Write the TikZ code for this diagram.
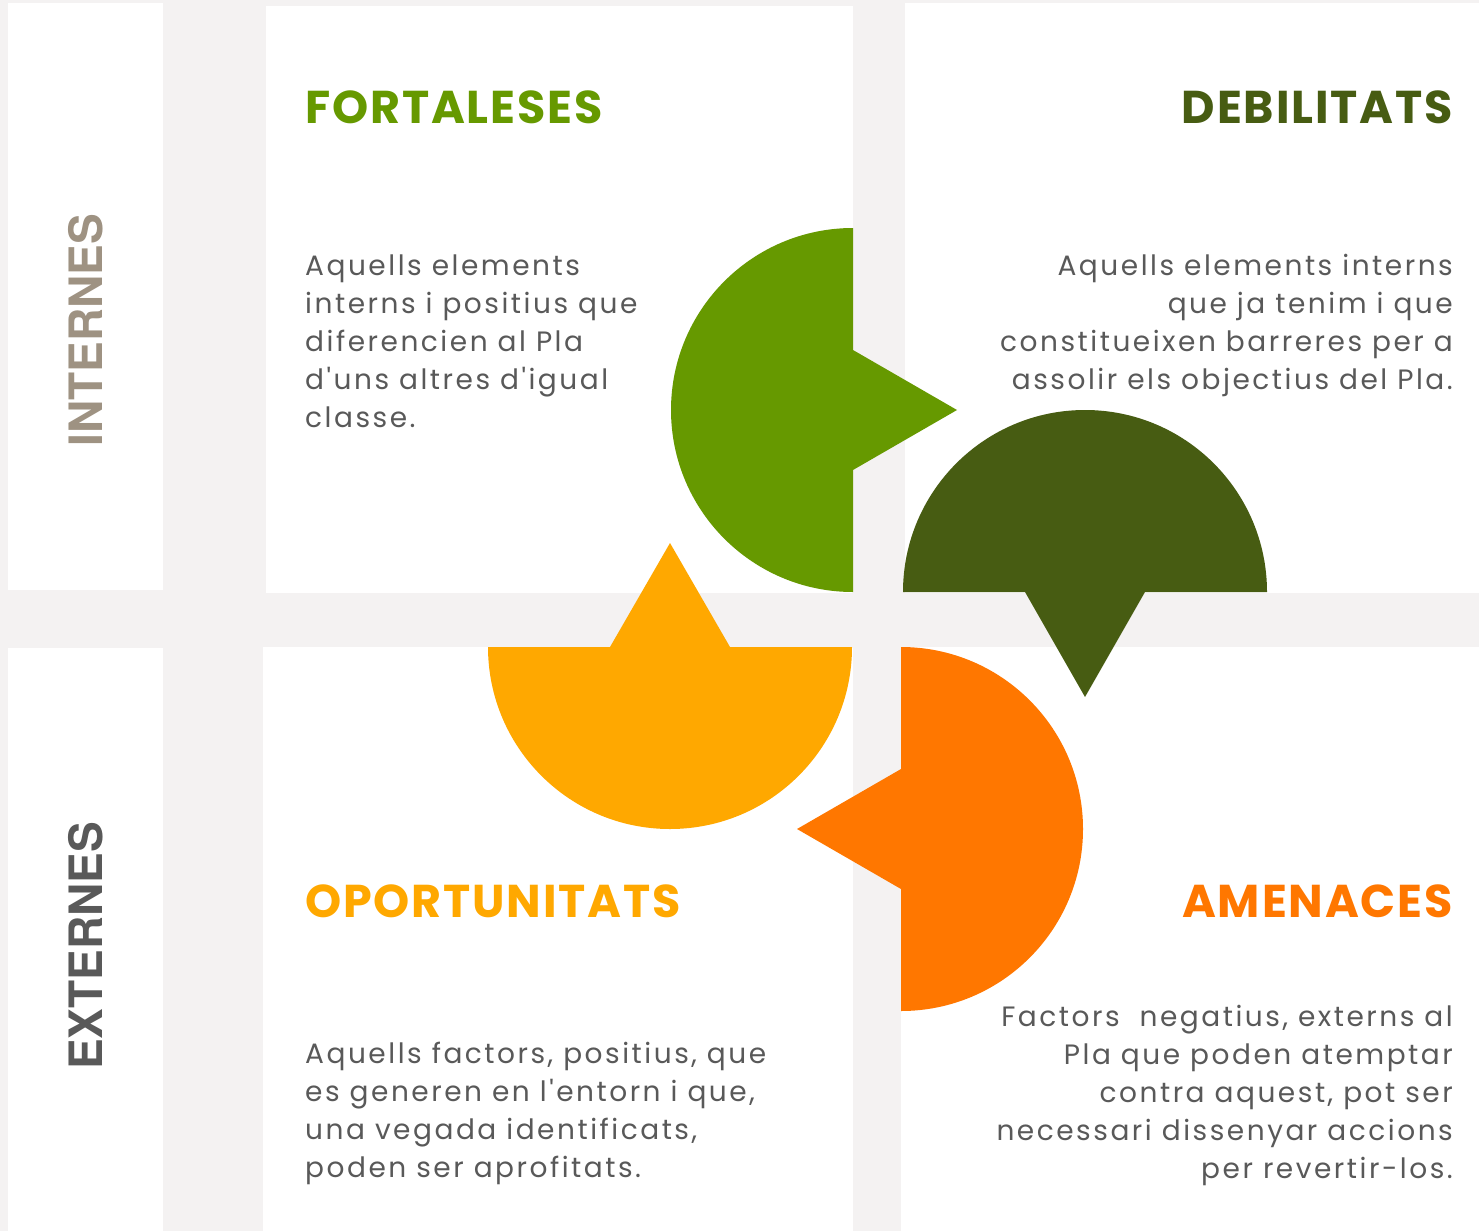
\documentclass[tikz,border=0pt]{standalone}
\usepackage{fontspec}
\setmainfont{Poppins}
\newfontfamily\sidefont{TeX Gyre Heros}
\newfontfamily\bodyfont{Poppins}[LetterSpace=9]
\newfontfamily\titlefont{Poppins}[LetterSpace=4]
\usetikzlibrary{positioning}

\definecolor{bggray}{HTML}{F4F2F2}
\definecolor{fgreen}{HTML}{669900}
\definecolor{dgreen}{HTML}{475C12}
\definecolor{oyellow}{HTML}{FFA800}
\definecolor{aorange}{HTML}{FF7700}
\definecolor{taupe}{HTML}{9E9282}
\definecolor{txtgray}{HTML}{595959}

\begin{document}
\begin{tikzpicture}[x=1pt,y=-1pt,
	panel/.style={fill=white},
	side/.style={font=\sidefont\bfseries\fontsize{46}{46}\selectfont, rotate=90, inner sep=0},
	title/.style={font=\titlefont\bfseries\fontsize{46}{46}\selectfont, inner sep=0},
	body/.style={font=\bodyfont\fontsize{28}{38}\selectfont, text=txtgray, inner sep=0}
	]
	\fill[bggray] (0,0) rectangle (1479,1231);
	\useasboundingbox (0,0) rectangle (1479,1231);
	
	%white panels
	\fill[panel] (8,3) rectangle (163,590);		%INTERNES
	\fill[panel] (8,648) rectangle (163,1231);	%EXTERNES
	\fill[panel] (266,6) rectangle (853,593);
	\fill[panel] (905,3) rectangle (1479,593);
	\fill[panel] (263,647) rectangle (853,1231);
	\fill[panel] (901,647) rectangle (1479,1231);
	
	%the four pointers
	\fill[fgreen] (853,228) arc[start angle=270, end angle=90, radius=182]
		-- (853,470) -- (957,410) -- (853,350) -- cycle;
	\fill[dgreen] (903,592) arc[start angle=180, end angle=360, radius=182]
		-- (1145,592) -- (1085,697) -- (1025,592) -- cycle;
	\fill[oyellow] (852,647) arc[start angle=0, end angle=180, radius=182]
		-- (610,647) -- (670,543) -- (730,647) -- cycle;
	\fill[aorange] (901,647) arc[start angle=-90, end angle=90, radius=182]
		-- (901,889) -- (797,829) -- (901,769) -- cycle;
	
	\node[side, text=taupe] (int) at (86,330) {INTERNES};
	\node[side, text=txtgray] (ext) at (86,946) {EXTERNES};
	
	%titles
	\node[title, text=fgreen, anchor=base west] (fort) at (305,123) {FORTALESES};
	\node[title, text=dgreen, anchor=base east] (debi) at (1453,123) {DEBILITATS};
	\node[title, text=oyellow, anchor=base west] (opor) at (305,917) {OPORTUNITATS};
	\node[title, text=aorange, anchor=base east] (amen) at (1453,917) {AMENACES};
	
	%descriptions (base = last line)
	\node[body, align=left, anchor=base west] (tfort) at (305,427)
		{Aquells elements\\interns i positius que\\diferencien al Pla\\d'uns altres d'igual\\classe.};
	\node[body, align=right, anchor=base east] (tdebi) at (1453,389)
		{Aquells elements interns\\que ja tenim i que\\constitueixen barreres per a\\assolir els objectius del Pla.};
	\node[body, align=left, anchor=base west] (topor) at (305,1177)
		{Aquells factors, positius, que\\es generen en l'entorn i que,\\una vegada identificats,\\poden ser aprofitats.};
	\node[body, align=right, anchor=base east] (tamen) at (1453,1178)
		{Factors\ \ negatius, externs al\\Pla que poden atemptar\\contra aquest, pot ser\\necessari dissenyar accions\\per revertir-los.};
\end{tikzpicture}
\end{document}
